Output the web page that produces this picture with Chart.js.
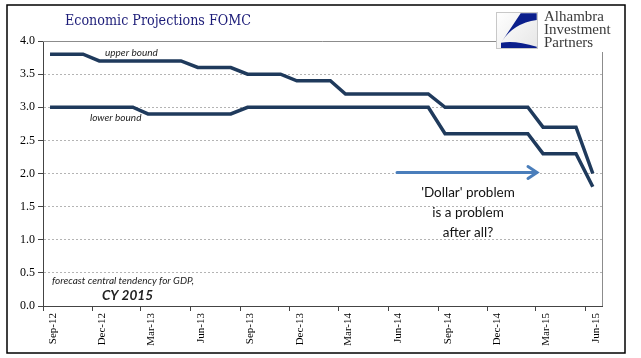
<!DOCTYPE html>
<html>
<head>
<meta charset="utf-8">
<script src="https://cdn.jsdelivr.net/npm/chart.js@4.4.1/dist/chart.umd.min.js"></script>
<style>
  body { margin: 0; background: #fff; }
  canvas { display: block; }
</style>
</head>
<body>
<canvas id="fomc" width="641" height="358"></canvas>
<script>
// monthly readings, value held until the next projection
const months = ['2012-09','2012-10','2012-11','2012-12','2013-01','2013-02','2013-03','2013-04','2013-05','2013-06',
                '2013-07','2013-08','2013-09','2013-10','2013-11','2013-12','2014-01','2014-02','2014-03','2014-04',
                '2014-05','2014-06','2014-07','2014-08','2014-09','2014-10','2014-11','2014-12','2015-01','2015-02',
                '2015-03','2015-04','2015-05','2015-06'];
const upperBound = [3.8,3.8,3.8,3.7,3.7,3.7,3.7,3.7,3.7,3.6,
                    3.6,3.6,3.5,3.5,3.5,3.4,3.4,3.4,3.2,3.2,
                    3.2,3.2,3.2,3.2,3.0,3.0,3.0,3.0,3.0,3.0,
                    2.7,2.7,2.7,2.0];
const lowerBound = [3.0,3.0,3.0,3.0,3.0,3.0,2.9,2.9,2.9,2.9,
                    2.9,2.9,3.0,3.0,3.0,3.0,3.0,3.0,3.0,3.0,
                    3.0,3.0,3.0,3.0,2.6,2.6,2.6,2.6,2.6,2.6,
                    2.3,2.3,2.3,1.8];
const tickMonths = ['2012-09','2012-12','2013-03','2013-06','2013-09','2013-12','2014-03','2014-06','2014-09','2014-12','2015-03','2015-06'];
const tickLabels = ['Sep-12','Dec-12','Mar-13','Jun-13','Sep-13','Dec-13','Mar-14','Jun-14','Sep-14','Dec-14','Mar-15','Jun-15'];
const yTicks = [0,0.5,1,1.5,2,2.5,3,3.5,4];

const lineColor = '#1f3a5c';
const arrowColor = '#4a7ebb';

// days since 1 Sep 2012
function dayNum(ym, day) {
  const [y, m] = ym.split('-').map(Number);
  return (Date.UTC(y, m - 1, day) - Date.UTC(2012, 8, 1)) / 86400000;
}

const upperPts = months.map((m, i) => ({x: dayNum(m, 14), y: upperBound[i]}));
const lowerPts = months.map((m, i) => ({x: dayNum(m, 14), y: lowerBound[i]}));

const decor = {
  id: 'decor',
  beforeDatasetsDraw(chart) {
    const c = chart.ctx, a = chart.chartArea;
    c.save();
    c.strokeStyle = '#8c8c8c';
    c.lineWidth = 1;
    c.beginPath();
    c.moveTo(a.left, a.top + 0.5);
    c.lineTo(a.right + 0.5, a.top + 0.5);
    c.lineTo(a.right + 0.5, a.bottom);
    c.stroke();
    c.restore();
  },
  afterDraw(chart) {
    const c = chart.ctx;
    c.save();
    // logo area
    c.fillStyle = '#fff';
    c.fillRect(496, 6, 128, 46);
    const g = c.createLinearGradient(496, 12, 538, 49);
    g.addColorStop(0, '#ffffff');
    g.addColorStop(1, '#e6e6e6');
    c.fillStyle = g;
    c.fillRect(496, 12, 42, 37);
    c.strokeStyle = '#c8c8c8';
    c.lineWidth = 1;
    c.strokeRect(496.5, 12.5, 41, 36);
    c.fillStyle = '#0b1f8c';
    c.beginPath();
    c.moveTo(536.7, 13.3);
    c.lineTo(520.7, 13.3);
    c.lineTo(501.7, 41.7);
    c.quadraticCurveTo(513.3, 23.3, 536.7, 20);
    c.closePath();
    c.fill();
    c.beginPath();
    c.moveTo(501, 42.7);
    c.quadraticCurveTo(515, 40, 536.7, 46.7);
    c.lineTo(536.7, 48);
    c.lineTo(501, 48);
    c.closePath();
    c.fill();

    c.fillStyle = '#3a3a3a';
    c.font = '15px "Liberation Serif"';
    c.textBaseline = 'middle';
    c.textAlign = 'left';
    c.fillText('Alhambra', 544, 17, 68);
    c.fillText('Investment', 544, 30, 76);
    c.fillText('Partners', 544, 43, 68);

    // title
    c.fillStyle = '#1c1c78';
    c.font = '14px "DejaVu Serif"';
    c.fillText('Economic Projections FOMC', 65, 21, 186);

    // line notes
    c.fillStyle = '#222';
    c.font = 'italic 10px "Lato"';
    c.fillText('upper bound', 105, 53, 58);
    c.fillText('lower bound', 90, 118, 57);
    c.fillText('forecast central tendency for GDP,', 52, 281, 151);
    c.font = 'bold italic 14px "Lato"';
    c.fillText('CY 2015', 102, 295, 51);

    // arrow
    c.strokeStyle = arrowColor;
    c.lineWidth = 3;
    c.lineCap = 'round';
    c.beginPath();
    c.moveTo(397, 172.5);
    c.lineTo(536, 172.5);
    c.moveTo(528, 166.5);
    c.lineTo(537, 172.5);
    c.lineTo(528, 178.5);
    c.stroke();

    c.fillStyle = '#111';
    c.font = '13.5px "Lato"';
    c.textAlign = 'center';
    c.fillText("'Dollar' problem", 468, 193);
    c.fillText('is a problem', 468, 213);
    c.fillText('after all?', 468, 233);

    // outer frame
    c.strokeStyle = '#000';
    c.lineWidth = 1.5;
    c.strokeRect(7, 5, 618, 348);
    c.restore();
  }
};

new Chart(document.getElementById('fomc'), {
  type: 'line',
  data: {
    datasets: [
      {label: 'upper bound', data: upperPts, borderColor: lineColor, borderWidth: 3.5, pointRadius: 0, tension: 0, fill: false},
      {label: 'lower bound', data: lowerPts, borderColor: lineColor, borderWidth: 3.5, pointRadius: 0, tension: 0, fill: false}
    ]
  },
  options: {
    responsive: false,
    animation: false,
    devicePixelRatio: 1,
    layout: {padding: {left: 0, top: 41, right: 39, bottom: 12}},
    plugins: {legend: {display: false}, tooltip: {enabled: false}},
    scales: {
      x: {
        type: 'linear',
        min: 0,
        max: dayNum('2015-07', 1),
        afterBuildTicks: s => { s.ticks = tickMonths.map(m => ({value: dayNum(m, 1)})); },
        afterFit: s => { s.height = 40; },
        grid: {drawOnChartArea: false, drawTicks: true, tickLength: 5, tickColor: '#444'},
        border: {color: '#444', width: 1},
        ticks: {
          autoSkip: false,
          minRotation: 90,
          maxRotation: 90,
          padding: 2,
          labelOffset: 10,
          color: '#000',
          font: {family: 'Liberation Serif', size: 11},
          callback: (v, i) => tickLabels[i]
        }
      },
      y: {
        min: 0,
        max: 4,
        afterBuildTicks: s => { s.ticks = yTicks.map(v => ({value: v})); },
        afterFit: s => { s.width = 43; },
        grid: {
          color: c => (c.tick && (c.tick.value === 0 || c.tick.value === 4)) ? 'rgba(0,0,0,0)' : '#b4b4b4',
          drawTicks: true,
          tickLength: 5,
          tickColor: '#444'
        },
        border: {color: '#444', width: 1, dash: [2, 2]},
        ticks: {
          padding: 3,
          color: '#000',
          font: {family: 'Liberation Serif', size: 12},
          callback: v => v.toFixed(1)
        }
      }
    }
  },
  plugins: [decor]
});
</script>
</body>
</html>
